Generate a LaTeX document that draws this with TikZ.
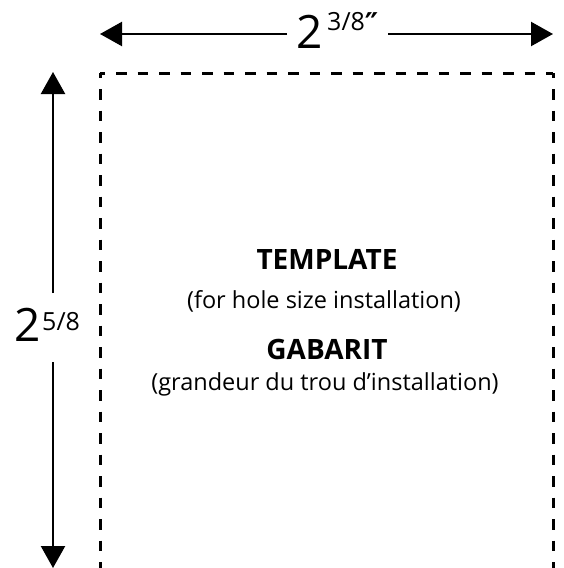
\documentclass[tikz,border=0pt]{standalone}
\usepackage{fontspec}
\setmainfont{Open Sans}
\newfontfamily\symfont{DejaVu Sans}
\usetikzlibrary{arrows.meta}
\begin{document}
\begin{tikzpicture}[x=1pt,y=-1pt,
  dimline/.style={line width=2.3pt,-{Triangle[length=22pt,width=24pt]}},
  outline/.style={line width=3pt,dash pattern=on 10.5pt off 11pt,dash phase=5.5pt},
  big/.style={font=\fontsize{46}{46}\selectfont,inner sep=0pt},
  small/.style={font=\fontsize{25}{25}\selectfont,inner sep=0pt},
  title/.style={font=\bfseries\fontsize{28}{28}\selectfont,inner sep=0pt},
  sub/.style={font=\fontsize{23.5}{23.5}\selectfont,inner sep=0pt}]
\useasboundingbox (0,0) rectangle (563,568);
% dashed template outline
\coordinate (tl) at (100,73);
\coordinate (tr) at (553,73);
\coordinate (bl) at (100,572);
\coordinate (br) at (553,572);
\draw[outline] (tl) -- (bl);
\draw[outline] (tl) -- (tr);
\draw[outline] (tr) -- (br);
% horizontal dimension
\node[big,anchor=base west] (w2) at (296,48) {2};
\node[small,anchor=base west] (wf) at (327,30) {3/8\raisebox{-4pt}{\symfont\bfseries\fontsize{30}{30}\selectfont ″}};
\coordinate (wl) at (100,34);
\coordinate (wr) at (553,34);
\draw[dimline] (287,34) -- (wl);
\draw[dimline] (388,34) -- (wr);
% vertical dimension
\node[big,anchor=base west] (h2) at (14,341) {2};
\node[small,anchor=base west] (hf) at (42,330) {5/8};
\coordinate (ht) at (53,72);
\coordinate (hb) at (53,568);
\draw[dimline] (53,293) -- (ht);
\draw[dimline] (53,362) -- (hb);
% texts
\node[title,anchor=base] (t1) at (327,269) {TEMPLATE};
\node[sub,anchor=base] (t2) at (324,308) {(for hole size installation)};
\node[title,anchor=base] (t3) at (327,359) {GABARIT};
\node[sub,anchor=base] (t4) at (325,390) {(grandeur du trou d’installation)};
\end{tikzpicture}
\end{document}
